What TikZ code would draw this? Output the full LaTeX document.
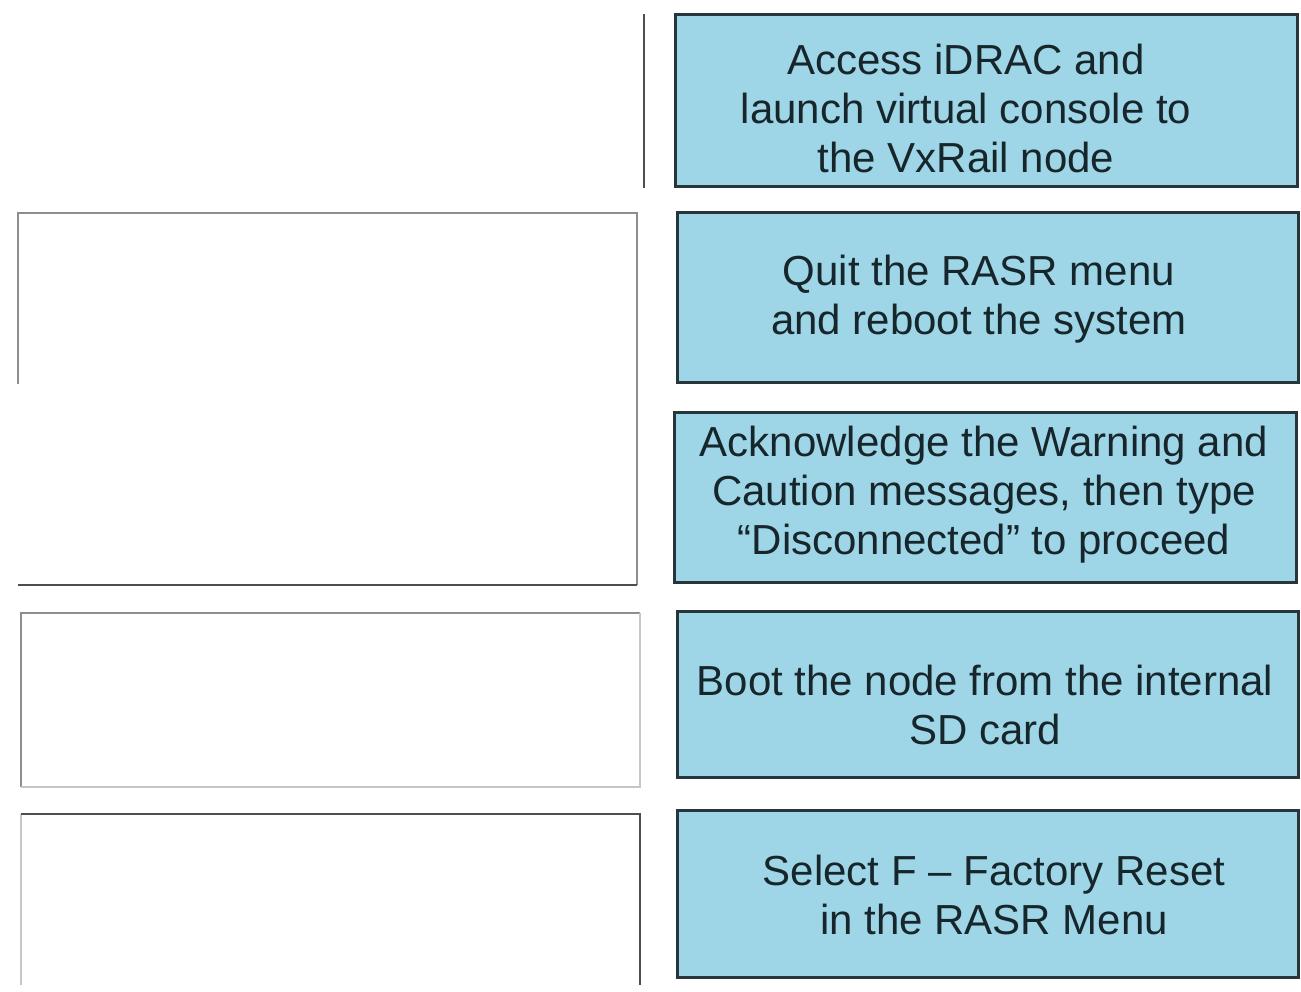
\documentclass[tikz,border=0pt]{standalone}
\usepackage{fontspec}
\setmainfont{Liberation Sans}
\usetikzlibrary{calc}
\definecolor{boxblue}{HTML}{9ED6E8}
\definecolor{boxedge}{HTML}{26363B}
\definecolor{boxtextcol}{HTML}{17262B}
\definecolor{slotdark}{HTML}{4A4F52}
\definecolor{slotmid}{HTML}{8A8E90}
\definecolor{slotlight}{HTML}{C4C7C8}
\tikzset{
  bluebox/.style={draw=boxedge, line width=3pt, fill=boxblue, rectangle, inner sep=0pt},
  boxtext/.style={text=boxtextcol, align=center, inner sep=0pt, font=\fontsize{42}{49}\selectfont},
  slotline/.style={line width=2pt, draw=slotmid},
}
\begin{document}
\begin{tikzpicture}[x=1pt,y=-1pt]
\useasboundingbox[fill=white] (0,0) rectangle (1301,991);
% right column: answer boxes
\node[bluebox, minimum width=622pt, minimum height=172pt] (b1) at (986,100) {};
\node[bluebox, minimum width=621pt, minimum height=170pt] (b2) at (987.5,297) {};
\node[bluebox, minimum width=622pt, minimum height=170pt] (b3) at (985,497) {};
\node[bluebox, minimum width=621pt, minimum height=166pt] (b4) at (987.5,694) {};
\node[bluebox, minimum width=621pt, minimum height=167pt] (b5) at (987.5,894) {};
\node[boxtext] (t1) at (966,108) {Access iDRAC and\\launch virtual console to\\the VxRail node};
\node[boxtext] (t2) at (979,299) {Quit the RASR menu\\and reboot the system};
\node[boxtext] (t3) at (984,495) {Acknowledge the Warning and\\Caution messages, then type\\``Disconnected'' to proceed};
\node[boxtext] (t4) at (985,705) {Boot the node from the internal\\SD card};
\node[boxtext] (t5) at (994,895) {Select F -- Factory Reset\\in the RASR Menu};
% left column: empty target slots
\coordinate (v1) at (644,14);
\coordinate (v2) at (644,188);
\draw[line width=1.8pt, draw=slotdark] (v1) -- (v2);
\coordinate (a1) at (18,384);
\coordinate (a2) at (18,213);
\coordinate (a3) at (637,213);
\coordinate (a4) at (637,585);
\coordinate (a5) at (18,585);
\draw[slotline] (a1) -- (a2) -- (a3) -- (a4);
\draw[line width=2.6pt, draw=slotdark] (a4) -- (a5);
\coordinate (c1) at (21,787);
\coordinate (c2) at (21,613);
\coordinate (c3) at (640,613);
\coordinate (c4) at (640,787);
\draw[slotline, draw=slotmid] (c1) -- (c2) -- (c3);
\draw[line width=1.5pt, draw=slotlight] (c3) -- (c4) -- (c1);
\coordinate (d1) at (21,985);
\coordinate (d2) at (21,814);
\coordinate (d3) at (640,814);
\coordinate (d4) at (640,985);
\draw[line width=1.5pt, draw=slotlight] (d1) -- (d2);
\draw[line width=2.6pt, draw=slotdark] (d2) -- (d3) -- (d4);
\end{tikzpicture}
\end{document}
